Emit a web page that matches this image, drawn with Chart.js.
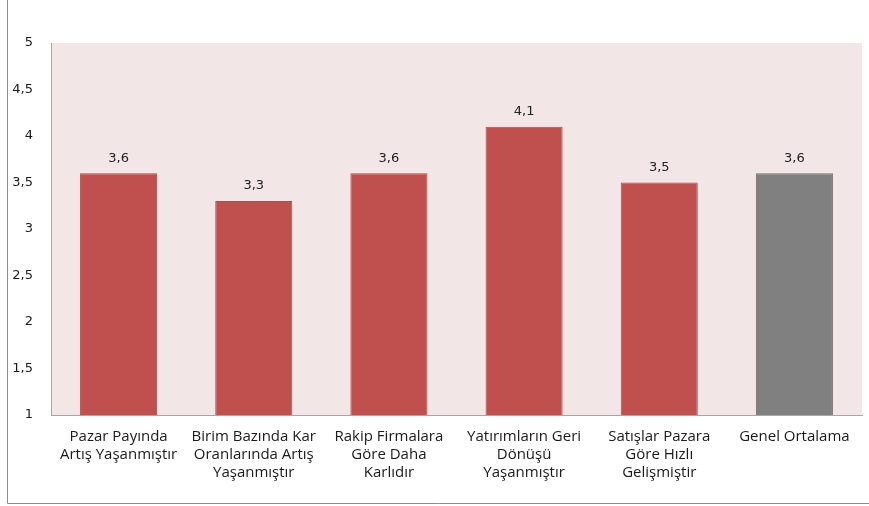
<!DOCTYPE html>
<html>
<head>
<meta charset="utf-8">
<script src="https://cdn.jsdelivr.net/npm/chart.js@4/dist/chart.umd.min.js"></script>
<style>
  html, body { margin: 0; padding: 0; background: #fff; }
  #wrap { position: relative; width: 869px; height: 506px; }
</style>
</head>
<body>
<div id="wrap"><canvas id="c" width="869" height="506"></canvas></div>
<script>
// Category labels (multi-line) and mean scores
const categories = [
  ["Pazar Payında", "Artış Yaşanmıştır"],
  ["Birim Bazında Kar", "Oranlarında Artış", "Yaşanmıştır"],
  ["Rakip Firmalara", "Göre Daha", "Karlıdır"],
  ["Yatırımların Geri", "Dönüşü", "Yaşanmıştır"],
  ["Satışlar Pazara", "Göre Hızlı", "Gelişmiştir"],
  ["Genel Ortalama"]
];
const scores = [3.6, 3.3, 3.6, 4.1, 3.5, 3.6];
const barColors = ["#C0504D", "#C0504D", "#C0504D", "#C0504D", "#C0504D", "#808080"];
const yTicks = [1, 1.5, 2, 2.5, 3, 3.5, 4, 4.5, 5];

const fmt = v => String(v).replace('.', ',');
const NUM_FONT = "'DejaVu Sans', sans-serif";
const CAT_FONT = "'Open Sans', 'Noto Sans', sans-serif";

// Pink plot background and the outer frame lines
const backdrop = {
  id: 'backdrop',
  beforeDraw(chart) {
    const { ctx, chartArea: a } = chart;
    ctx.save();
    ctx.fillStyle = '#F2E6E6';
    ctx.fillRect(a.left, a.top, a.right - a.left, a.bottom - a.top);
    ctx.strokeStyle = '#8C8C8C';
    ctx.lineWidth = 1;
    ctx.beginPath();
    ctx.moveTo(7.5, 0);
    ctx.lineTo(7.5, 503.5);
    ctx.lineTo(869, 503.5);
    ctx.stroke();
    ctx.restore();
  }
};

// Value labels above each bar
const valueLabels = {
  id: 'valueLabels',
  afterDatasetsDraw(chart) {
    const { ctx } = chart;
    const meta = chart.getDatasetMeta(0);
    ctx.save();
    ctx.font = '13px ' + NUM_FONT;
    ctx.fillStyle = '#222';
    ctx.textAlign = 'center';
    ctx.textBaseline = 'middle';
    meta.data.forEach((bar, i) => {
      ctx.fillText(fmt(chart.data.datasets[0].data[i]), bar.x, bar.y - 15);
    });
    ctx.restore();
  }
};

new Chart(document.getElementById('c'), {
  type: 'bar',
  data: {
    labels: categories,
    datasets: [{
      data: scores,
      backgroundColor: barColors,
      borderColor: barColors.map(c => c === '#808080' ? '#7a6f70' : '#B44A47'),
      borderWidth: 1,
      categoryPercentage: 1,
      barPercentage: 0.57
    }]
  },
  options: {
    responsive: false,
    animation: false,
    events: [],
    layout: { padding: { top: 43, right: 7, left: 0, bottom: 0 } },
    plugins: { legend: { display: false }, tooltip: { enabled: false } },
    scales: {
      x: {
        grid: { display: false, drawTicks: false },
        border: { display: true, color: '#A6A6A6', width: 1 },
        ticks: {
          color: '#1a1a1a',
          font: { family: CAT_FONT, size: 15, lineHeight: 1.2 },
          maxRotation: 0,
          autoSkip: false,
          padding: 13
        },
        afterFit(axis) { axis.height = 91; }
      },
      y: {
        min: 1,
        max: 5,
        afterBuildTicks(axis) { axis.ticks = yTicks.map(v => ({ value: v })); },
        grid: { display: false, drawTicks: false },
        border: { display: true, color: '#A6A6A6', width: 1 },
        ticks: {
          color: '#1a1a1a',
          font: { family: NUM_FONT, size: 13 },
          padding: 18,
          callback: v => fmt(v)
        },
        afterFit(axis) { axis.width = 51; }
      }
    }
  },
  plugins: [backdrop, valueLabels]
});
</script>
</body>
</html>
